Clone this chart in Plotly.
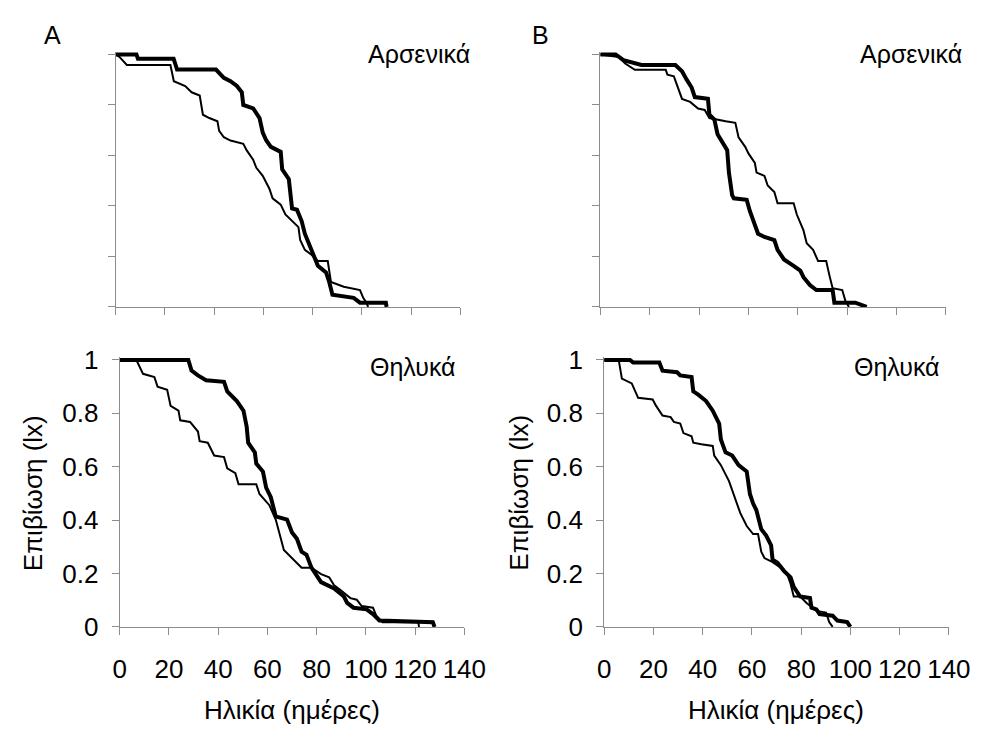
import plotly.graph_objects as go

# ---------------- data (age in days, survival lx) ----------------
# Panel A, males (top): thick and thin curves
a_m_thick_x = [0, 8.4, 9, 23.5, 24.9, 40.7, 43.9, 46.6, 49.2, 51.2, 51.8, 55.8, 58.4, 59.7, 61.1, 63, 67, 67.6,
               70.3, 71.6, 73.6, 75.5, 76.8, 78.8, 80.8, 82.1, 85.4, 86.7, 88, 96.6, 99.2, 109.7, 110]
a_m_thick_y = [1, 1, 0.983, 0.983, 0.94, 0.94, 0.907, 0.894, 0.875, 0.85, 0.80, 0.786, 0.748, 0.69, 0.66, 0.634,
               0.614, 0.545, 0.506, 0.39, 0.385, 0.34, 0.29, 0.24, 0.19, 0.163, 0.137, 0.099, 0.048, 0.036, 0.017,
               0.017, 0]
a_m_thin_x = [0, 1.5, 4.5, 22.2, 23.6, 28.2, 30.8, 34.1, 35.4, 38, 41.3, 42, 43.9, 46.6, 51.8, 53.2, 55.8, 57.1,
              59.7, 62.4, 63.7, 67, 68.9, 71.6, 74.2, 74.9, 76.8, 79.5, 82.1, 86.1, 87.4, 92.6, 99.2, 100.5, 101.8,
              102.5]
a_m_thin_y = [1, 0.99, 0.958, 0.958, 0.894, 0.875, 0.85, 0.837, 0.761, 0.748, 0.735, 0.697, 0.672, 0.659, 0.646,
              0.62, 0.583, 0.551, 0.519, 0.468, 0.43, 0.405, 0.366, 0.34, 0.316, 0.265, 0.226, 0.207, 0.182, 0.182,
              0.099, 0.08, 0.067, 0.036, 0.017, 0]

# Panel B, males (top)
b_m_thick_x = [0, 6.2, 9.4, 16.7, 30.4, 33.1, 35, 37, 38.3, 43.6, 44.2, 46.2, 47.5, 49.5, 51.4, 52.1, 53.4, 54.1,
               59.3, 60.6, 62.6, 63.9, 66.5, 70.5, 71.8, 74.4, 78.3, 81, 82.3, 84.9, 87.5, 94.1, 94.8, 103.3, 107.9]
b_m_thick_y = [1, 1, 0.977, 0.958, 0.958, 0.933, 0.9, 0.869, 0.831, 0.824, 0.761, 0.742, 0.684, 0.653, 0.621,
               0.532, 0.443, 0.43, 0.424, 0.379, 0.328, 0.29, 0.277, 0.265, 0.226, 0.188, 0.163, 0.144, 0.118,
               0.087, 0.067, 0.067, 0.017, 0.017, 0]
b_m_thin_x = [0, 7.5, 10.1, 14, 26.5, 27.2, 29.8, 31.1, 33.1, 36.4, 39.6, 42.3, 44.2, 50.8, 54.7, 56, 58.7, 60,
              62.6, 63.3, 66.5, 67.8, 70.5, 71.8, 78.3, 79.6, 82.3, 83.6, 86.2, 88.2, 91.5, 92.8, 94.1, 98, 99.3,
              100.7]
b_m_thin_y = [1, 0.99, 0.964, 0.939, 0.939, 0.92, 0.913, 0.875, 0.824, 0.812, 0.786, 0.78, 0.748, 0.735, 0.729,
              0.672, 0.634, 0.608, 0.57, 0.532, 0.519, 0.481, 0.455, 0.411, 0.411, 0.366, 0.303, 0.252, 0.226,
              0.182, 0.182, 0.125, 0.074, 0.067, 0.023, 0]

# Panel A, females (bottom)
a_f_thick_x = [0, 27.9, 29.2, 31.8, 35.1, 42.4, 43.7, 47.6, 50.3, 51.6, 52.2, 54.9, 55.5, 58.2, 59.5, 61.4, 63.4,
               68, 70, 72, 73.9, 75.9, 77.9, 81.8, 87.1, 91.1, 92.4, 95, 100.3, 102.9, 105.5, 127.2, 127.9]
a_f_thick_y = [1, 1, 0.96, 0.942, 0.924, 0.918, 0.882, 0.846, 0.81, 0.75, 0.69, 0.654, 0.612, 0.582, 0.522, 0.486,
               0.414, 0.402, 0.354, 0.33, 0.282, 0.27, 0.222, 0.168, 0.144, 0.114, 0.09, 0.072, 0.066, 0.048, 0.024,
               0.018, 0]
a_f_thin_x = [0, 6.8, 9.5, 14.1, 15.4, 19.3, 20.7, 23.9, 24.6, 28.6, 31.8, 32.5, 35.8, 38.4, 42.4, 43.7, 47, 48.3,
              55.5, 56.8, 60.8, 63.4, 66.7, 70, 73.9, 77.9, 81.8, 85.1, 87.1, 89.7, 93.7, 96.3, 98.3, 102.9, 104.2,
              106.8, 121.3, 121.6]
a_f_thin_y = [1, 1, 0.948, 0.936, 0.9, 0.888, 0.828, 0.81, 0.774, 0.768, 0.732, 0.696, 0.69, 0.642, 0.636, 0.594,
              0.576, 0.534, 0.534, 0.498, 0.456, 0.402, 0.288, 0.258, 0.222, 0.222, 0.198, 0.186, 0.156, 0.138,
              0.108, 0.102, 0.078, 0.072, 0.042, 0.018, 0.018, 0]

# Panel B, females (bottom)
b_f_thick_x = [0, 10.5, 11.8, 22.4, 23.7, 29.6, 30.9, 35.5, 36.2, 38.2, 41.4, 44.1, 46.7, 47.4, 49.3, 52, 54.6,
               57.9, 59.2, 60.5, 61.8, 63.8, 65.8, 67.8, 68.4, 70.4, 73, 75.7, 77, 79.6, 83.6, 84.2, 86.2, 87.5,
               92.8, 94.7, 98.7, 100]
b_f_thick_y = [1, 1, 0.99, 0.99, 0.96, 0.954, 0.942, 0.936, 0.882, 0.87, 0.846, 0.81, 0.762, 0.702, 0.654, 0.642,
               0.606, 0.582, 0.498, 0.462, 0.438, 0.366, 0.342, 0.306, 0.252, 0.24, 0.21, 0.186, 0.15, 0.114, 0.108,
               0.072, 0.066, 0.048, 0.042, 0.024, 0.018, 0]
b_f_thin_x = [0, 5.9, 7.2, 11.2, 13.8, 19.7, 21.1, 23.7, 27, 28.3, 30.9, 32.2, 35.5, 36.2, 39.5, 44.1, 44.7, 47.4,
              50.7, 52, 55.3, 57.9, 60.5, 62.5, 63.8, 65.1, 67.8, 71.7, 74.3, 75.7, 77, 79.6, 82.2, 86.2, 90.1,
              91.4, 92.8]
b_f_thin_y = [1, 1, 0.93, 0.912, 0.858, 0.852, 0.828, 0.792, 0.786, 0.768, 0.762, 0.726, 0.714, 0.69, 0.684,
              0.678, 0.642, 0.606, 0.546, 0.51, 0.426, 0.378, 0.348, 0.348, 0.282, 0.258, 0.246, 0.222, 0.198,
              0.162, 0.114, 0.114, 0.09, 0.06, 0.054, 0.018, 0]

x_ticks = [0, 20, 40, 60, 80, 100, 120, 140]
y_ticks = [0, 0.2, 0.4, 0.6, 0.8, 1]

panel_letters = ["A", "B"]
label_males = "Αρσενικά"
label_females = "Θηλυκά"
x_title = "Ηλικία (ημέρες)"
y_title = "Επιβίωση (lx)"

# ---------------- figure ----------------
W, H = 1000, 747
FONT = "Arial, 'Liberation Sans', sans-serif"
AX_COL = "#8c8c8c"

def px_x(p):
    return p / W

def px_y(p):
    return 1 - p / H

# plot-area geometry in pixels: (left, right, top(y=1), bottom(y=0))
panels = {
    "A_top": (112, 467, 44, 306),
    "B_top": (611, 967, 44, 306),
    "A_bot": (116, 471, 361, 638),
    "B_bot": (615, 970, 361, 638),
}
ytop = 1.01

fig = go.Figure()
series = [
    ("A_top", a_m_thin_x, a_m_thin_y, 2.0), ("A_top", a_m_thick_x, a_m_thick_y, 4.0),
    ("B_top", b_m_thin_x, b_m_thin_y, 2.0), ("B_top", b_m_thick_x, b_m_thick_y, 4.0),
    ("A_bot", a_f_thin_x, a_f_thin_y, 2.0), ("A_bot", a_f_thick_x, a_f_thick_y, 4.0),
    ("B_bot", b_f_thin_x, b_f_thin_y, 2.0), ("B_bot", b_f_thick_x, b_f_thick_y, 4.0),
]
axis_ids = {"A_top": "", "B_top": "2", "A_bot": "3", "B_bot": "4"}

for name, xs, ys, w in series:
    i = axis_ids[name]
    fig.add_trace(go.Scatter(x=xs, y=ys, mode="lines", line=dict(color="black", width=w),
                             xaxis="x" + i, yaxis="y" + i, showlegend=False, hoverinfo="skip"))

TICK_SIZE = 26
layout = {}
for name, (l, r, t, b) in panels.items():
    i = axis_ids[name]
    bottom = name.endswith("bot")
    unit = (b - t)
    top_px = t - (ytop - 1) * unit
    layout["xaxis" + i] = dict(
        domain=[px_x(l), px_x(r)], range=[0, 140], anchor="y" + i,
        tickvals=x_ticks, showticklabels=bottom, ticks="outside", ticklen=7, tickwidth=1,
        tickcolor=AX_COL, showline=True, linecolor=AX_COL, linewidth=1, showgrid=False, zeroline=False,
        tickfont=dict(family=FONT, size=TICK_SIZE, color="black"), ticklabelstandoff=12,
    )
    layout["yaxis" + i] = dict(
        domain=[px_y(b), px_y(top_px)], range=[0, ytop], anchor="x" + i,
        tickvals=y_ticks, showticklabels=bottom, ticks="outside", ticklen=7, tickwidth=1,
        tickcolor=AX_COL, showline=True, linecolor=AX_COL, linewidth=1, showgrid=False, zeroline=False,
        tickfont=dict(family=FONT, size=TICK_SIZE, color="black"), ticklabelstandoff=8,
    )

annotations = []
def add_text(text, x, y, size, xanchor="center", yanchor="middle", angle=0):
    annotations.append(dict(text=text, x=px_x(x), y=px_y(y), xref="paper", yref="paper",
                            showarrow=False, xanchor=xanchor, yanchor=yanchor, textangle=angle,
                            font=dict(family=FONT, size=size, color="black")))

add_text(panel_letters[0], 47, 24, 25)
add_text(panel_letters[1], 549, 24, 25)
add_text(label_males, 370, 44, 25, xanchor="left")
add_text(label_males, 876, 44, 25, xanchor="left")
add_text(label_females, 372, 368, 25, xanchor="left")
add_text(label_females, 870, 368, 25, xanchor="left")
add_text(x_title, 293, 724, 26)
add_text(x_title, 792, 724, 26)
add_text(y_title, 27, 499, 26, angle=-90)
add_text(y_title, 527, 499, 26, angle=-90)

fig.update_layout(
    **layout,
    annotations=annotations,
    width=W, height=H, margin=dict(l=0, r=0, t=0, b=0),
    paper_bgcolor="white", plot_bgcolor="white", showlegend=False,
)

fig.write_html("out.html", config={"displayModeBar": False})
